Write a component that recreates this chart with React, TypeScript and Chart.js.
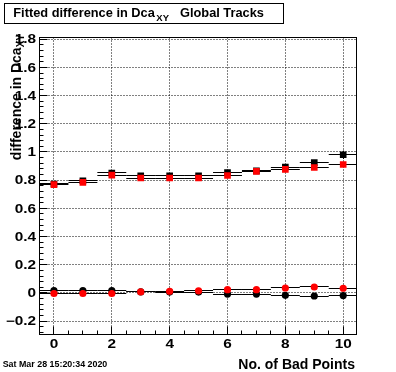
import React, { useEffect, useRef } from "react";
import { Chart, registerables } from "chart.js";

Chart.register(...registerables);

// ---- data ----
const xValues = [0, 1, 2, 3, 4, 5, 6, 7, 8, 9, 10];
const xHalfWidths = [0.5, 0.5, 0.5, 0.5, 0.5, 0.5, 0.5, 0.5, 0.5, 0.5, 0.5];

const upperBlack = [0.773, 0.796, 0.851, 0.83, 0.83, 0.83, 0.853, 0.866, 0.893, 0.924, 0.98];
const upperBlackErr = [0.01, 0.01, 0.01, 0.01, 0.01, 0.01, 0.01, 0.01, 0.012, 0.015, 0.03];
const upperRed = [0.768, 0.784, 0.836, 0.815, 0.815, 0.815, 0.833, 0.862, 0.876, 0.89, 0.911];
const upperRedErr = [0.01, 0.01, 0.01, 0.01, 0.01, 0.01, 0.01, 0.01, 0.01, 0.012, 0.015];

const lowerBlack = [0.017, 0.017, 0.017, 0.007, 0.006, 0.006, -0.008, -0.008, -0.017, -0.022, -0.019];
const lowerBlackErr = [0.005, 0.005, 0.005, 0.005, 0.005, 0.005, 0.005, 0.005, 0.006, 0.006, 0.006];
const lowerRed = [-0.004, -0.004, -0.004, 0.007, 0.012, 0.015, 0.023, 0.023, 0.035, 0.042, 0.033];
const lowerRedErr = [0.005, 0.005, 0.005, 0.005, 0.005, 0.005, 0.005, 0.005, 0.006, 0.006, 0.006];

const xTickValues = [0, 2, 4, 6, 8, 10];
const xTickLabels = ["0", "2", "4", "6", "8", "10"];
const yTickValues = [-0.2, 0, 0.2, 0.4, 0.6, 0.8, 1, 1.2, 1.4, 1.6, 1.8];
const yTickLabels = ["\u22120.2", "0", "0.2", "0.4", "0.6", "0.8", "1", "1.2", "1.4", "1.6", "1.8"];

const titleMain = "Fitted difference in Dca";
const titleSub = "XY";
const titleTail = "Global Tracks";
const yTitleMain = "difference in Dca";
const yTitleSub = "XY";
const xTitle = "No. of Bad Points";
const dateText = "Sat Mar 28 15:20:34 2020";

const X_MIN = -0.5;
const X_MAX = 10.46;
const Y_MIN = -0.295;
const Y_MAX = 1.812;
const X_MINOR = 0.5;
const Y_MINOR = 0.04;

const FONT = "'Liberation Sans', Arial, Helvetica, sans-serif";

function pts(ys: number[]) {
  return xValues.map((x, i) => ({ x, y: ys[i] }));
}

const rootPlugin = {
  id: "rootStyle",
  beforeDraw(chart: any) {
    const ctx = chart.ctx;
    ctx.save();
    ctx.fillStyle = "#ffffff";
    ctx.fillRect(0, 0, chart.width, chart.height);
    ctx.restore();
  },
  beforeDatasetsDraw(chart: any) {
    const { ctx, chartArea: a } = chart;
    const xs = chart.scales.x;
    const ys = chart.scales.y;
    ctx.save();
    ctx.beginPath();
    ctx.rect(a.left, a.top, a.right - a.left, a.bottom - a.top);
    ctx.clip();
    ctx.strokeStyle = "#000";
    ctx.lineWidth = 1;
    ctx.setLineDash([1, 2]);
    xTickValues.forEach((v) => {
      const p = Math.floor(xs.getPixelForValue(v)) + 0.5;
      ctx.beginPath();
      ctx.moveTo(p, a.top);
      ctx.lineTo(p, a.bottom);
      ctx.stroke();
    });
    yTickValues.forEach((v) => {
      const p = Math.floor(ys.getPixelForValue(v)) + 0.5;
      ctx.beginPath();
      ctx.moveTo(a.left, p);
      ctx.lineTo(a.right, p);
      ctx.stroke();
    });
    ctx.setLineDash([]);
    // error bars
    chart.data.datasets.forEach((ds: any) => {
      ds.data.forEach((pt: any, j: number) => {
        const py = Math.floor(ys.getPixelForValue(pt.y)) + 0.5;
        const x0 = xs.getPixelForValue(pt.x - ds.errX[j]);
        const x1 = xs.getPixelForValue(pt.x + ds.errX[j]);
        const px = Math.floor(xs.getPixelForValue(pt.x)) + 0.5;
        ctx.beginPath();
        ctx.moveTo(x0, py);
        ctx.lineTo(x1, py);
        const yTop = ys.getPixelForValue(pt.y + ds.errY[j]);
        const yBot = ys.getPixelForValue(pt.y - ds.errY[j]);
        ctx.moveTo(px, yTop);
        ctx.lineTo(px, yBot);
        ctx.stroke();
      });
    });
    ctx.restore();
  },
  afterDraw(chart: any) {
    const { ctx, chartArea: a } = chart;
    const xs = chart.scales.x;
    const ys = chart.scales.y;
    ctx.save();
    ctx.strokeStyle = "#000";
    ctx.fillStyle = "#000";
    ctx.lineWidth = 1;
    // frame
    ctx.strokeRect(a.left, a.top, a.right - a.left, a.bottom - a.top);
    // ticks
    ctx.beginPath();
    for (let v = X_MIN; v <= X_MAX + 1e-9; v += X_MINOR) {
      const isMajor = xTickValues.some((t) => Math.abs(t - v) < 1e-6);
      const p = Math.floor(xs.getPixelForValue(v)) + 0.5;
      ctx.moveTo(p, a.bottom);
      ctx.lineTo(p, a.bottom - (isMajor ? 8 : 4));
    }
    const yStart = Math.ceil(Y_MIN / Y_MINOR) * Y_MINOR;
    for (let k = 0; ; k++) {
      const v = yStart + k * Y_MINOR;
      if (v > Y_MAX + 1e-9) break;
      const isMajor = yTickValues.some((t) => Math.abs(t - v) < 1e-6);
      const p = Math.floor(ys.getPixelForValue(v)) + 0.5;
      ctx.moveTo(a.left, p);
      ctx.lineTo(a.left + (isMajor ? 8 : 4), p);
    }
    ctx.stroke();

    // tick labels (stretched as in the original)
    ctx.font = `bold 12px ${FONT}`;
    const sx = 1.28;
    yTickValues.forEach((v, i) => {
      const p = ys.getPixelForValue(v);
      ctx.save();
      ctx.translate(36, p + 4.2);
      ctx.scale(sx, 1);
      ctx.textAlign = "right";
      ctx.textBaseline = "alphabetic";
      ctx.fillText(yTickLabels[i], 0, 0);
      ctx.restore();
    });
    xTickValues.forEach((v, i) => {
      const p = xs.getPixelForValue(v);
      ctx.save();
      ctx.translate(p, 347.6);
      ctx.scale(sx, 1);
      ctx.textAlign = "center";
      ctx.textBaseline = "alphabetic";
      ctx.fillText(xTickLabels[i], 0, 0);
      ctx.restore();
    });

    // x title
    ctx.font = `bold 14px ${FONT}`;
    ctx.textAlign = "right";
    ctx.textBaseline = "alphabetic";
    ctx.fillText(xTitle, 355, 369.4);

    // y title (rotated)
    ctx.save();
    ctx.translate(20.7, 34);
    ctx.rotate(-Math.PI / 2);
    ctx.font = `bold 14px ${FONT}`;
    const wm = ctx.measureText(yTitleMain).width;
    ctx.font = `bold 10px ${FONT}`;
    const wsub = ctx.measureText(yTitleSub).width;
    ctx.textAlign = "left";
    ctx.font = `bold 14px ${FONT}`;
    ctx.fillText(yTitleMain, -(wm + wsub), 0);
    ctx.font = `bold 10px ${FONT}`;
    ctx.fillText(yTitleSub, -wsub, 3.5);
    ctx.restore();

    // title box
    ctx.fillStyle = "#fff";
    ctx.fillRect(4.5, 3.5, 279, 20);
    ctx.strokeRect(4.5, 3.5, 279, 20);
    ctx.fillStyle = "#000";
    ctx.textAlign = "left";
    ctx.font = `bold 12.8px ${FONT}`;
    ctx.fillText(titleMain, 13.3, 16.8);
    const tw = ctx.measureText(titleMain).width;
    ctx.font = `bold 9.5px ${FONT}`;
    ctx.fillText(titleSub, 13.3 + tw + 1.5, 20.6);
    ctx.font = `bold 12.8px ${FONT}`;
    ctx.fillText(titleTail, 180, 16.8);

    // date
    ctx.font = `bold 8.9px ${FONT}`;
    ctx.fillText(dateText, 2.7, 366.7);
    ctx.restore();
  },
};

export default function App() {
  const ref = useRef<HTMLCanvasElement | null>(null);
  useEffect(() => {
    if (!ref.current) return;
    const mk = (data: number[], ey: number[], color: string, style: string, r: number, order: number) => ({
      data: pts(data),
      errX: xHalfWidths,
      errY: ey,
      backgroundColor: color,
      borderColor: color,
      borderWidth: 0,
      pointStyle: style,
      pointRadius: r,
      pointHoverRadius: r,
      showLine: false,
      order,
    });
    const chart = new Chart(ref.current, {
      type: "scatter",
      data: {
        datasets: [
          mk(upperRed, upperRedErr, "#ff0000", "rect", 4.7, 0),
          mk(lowerRed, lowerRedErr, "#ff0000", "circle", 3.6, 1),
          mk(upperBlack, upperBlackErr, "#000000", "rect", 4.7, 2),
          mk(lowerBlack, lowerBlackErr, "#000000", "circle", 3.6, 3),
        ] as any,
      },
      options: {
        animation: false,
        responsive: false,
        devicePixelRatio: 1,
        events: [],
        layout: { padding: { left: 39.5, right: 39.5, top: 37.5, bottom: 37.5 }, autoPadding: false } as any,
        plugins: { legend: { display: false }, tooltip: { enabled: false }, title: { display: false } },
        scales: {
          x: { type: "linear", min: X_MIN, max: X_MAX, display: false },
          y: { type: "linear", min: Y_MIN, max: Y_MAX, display: false },
        },
      },
      plugins: [rootPlugin as any],
    });
    return () => chart.destroy();
  }, []);
  return (
    <div style={{ position: "fixed", left: 0, top: 0, width: 396, height: 372, background: "#fff" }}>
      <canvas ref={ref} width={396} height={372} style={{ display: "block", width: 396, height: 372 }} />
    </div>
  );
}
